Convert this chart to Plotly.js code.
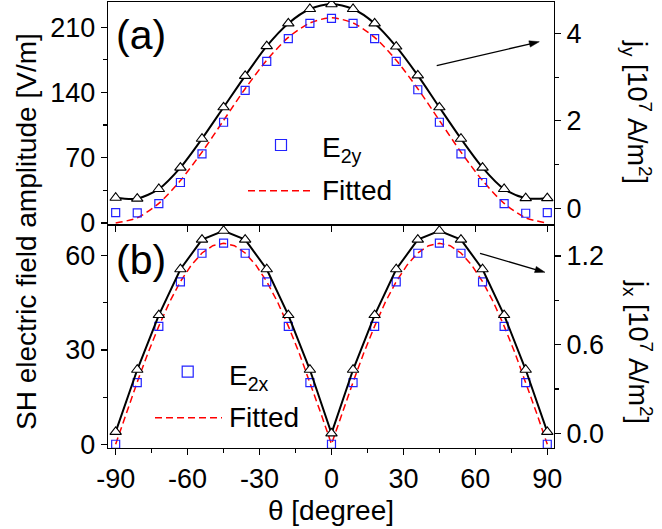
<!DOCTYPE html>
<html>
<head>
<meta charset="utf-8">
<script src="https://cdn.plot.ly/plotly-3.0.1.min.js"></script>
<style>html,body{margin:0;padding:0;background:#fff;}#chart{width:662px;height:529px;}</style>
</head>
<body>
<div id="chart"></div>
<script>
// ---- data ----
const theta = [-90,-81,-72,-63,-54,-45,-36,-27,-18,-9,0,9,18,27,36,45,54,63,72,81,90];
// (a) top panel
const jy  = [0.24,0.22,0.44,0.93,1.59,2.31,3.03,3.71,4.23,4.56,4.67,4.56,4.23,3.70,3.04,2.31,1.59,0.93,0.44,0.23,0.23];
const e2y = [11.1,10.8,20.8,43.4,74.0,108.0,142.2,173.4,197.8,214.0,219.4,214.0,197.8,173.4,142.9,108.0,74.0,43.4,20.8,10.4,11.1];
const fitY = [0,5.5,21,45.5,76,110,144,174.5,199,214.5,220,214.5,199,174.5,144,110,76,45.5,21,5.5,0];
// (b) bottom panel
const jx  = [0.01,0.43,0.80,1.11,1.31,1.37,1.31,1.11,0.80,0.43,0.0,0.43,0.80,1.11,1.31,1.37,1.31,1.11,0.80,0.43,0.01];
const e2x = [0,19.6,37.5,51.7,60.8,64.0,60.8,51.7,37.5,19.6,0,19.6,37.5,51.7,60.8,64.0,60.8,51.7,37.5,19.6,0];
const thetaFitX = [-90,-85.5,-81,-76.5,-72,-67.5,-63,-58.5,-54,-49.5,-45,-40.5,-36,-31.5,-27,-22.5,-18,-13.5,-9,-4.5,0,
                   4.5,9,13.5,18,22.5,27,31.5,36,40.5,45,49.5,54,58.5,63,67.5,72,76.5,81,85.5,90];
const fitX = [0,10,19.8,29.1,37.6,45.3,51.8,57,60.9,63.2,64,63.2,60.9,57,51.8,45.3,37.6,29.1,19.8,10,0,
              10,19.8,29.1,37.6,45.3,51.8,57,60.9,63.2,64,63.2,60.9,57,51.8,45.3,37.6,29.1,19.8,10,0];
const xTicks = [-90,-60,-30,0,30,60,90];
const xTickText = ['-90','-60','-30','0','30','60','90'];

// ---- styling ----
const FONT = 'Liberation Sans, Arial, sans-serif';
const BLUE = '#2222ff', RED = '#ff0000';
const triMarker = {symbol:'triangle-up', size:10, color:'white', line:{color:'black', width:1.1}};
const sqMarker = {symbol:'square-open', size:8, color:BLUE, line:{color:BLUE, width:1.2}};

const traces = [
  {x:theta, y:jy, xaxis:'x2', yaxis:'y4', mode:'lines+markers', line:{color:'black', width:2, shape:'spline', smoothing:0.8}, marker:triMarker, showlegend:false},
  {x:theta, y:fitY, xaxis:'x2', yaxis:'y3', mode:'lines', line:{color:RED, width:1.5, dash:'7px,4px', shape:'spline', smoothing:0.8}, showlegend:false},
  {x:theta, y:e2y, xaxis:'x2', yaxis:'y3', mode:'markers', marker:sqMarker, showlegend:false},
  {x:theta, y:jx, xaxis:'x', yaxis:'y2', mode:'lines+markers', line:{color:'black', width:2}, marker:triMarker, showlegend:false},
  {x:thetaFitX, y:fitX, xaxis:'x', yaxis:'y', mode:'lines', line:{color:RED, width:1.5, dash:'7px,4px'}, showlegend:false},
  {x:theta, y:e2x, xaxis:'x', yaxis:'y', mode:'markers', marker:sqMarker, showlegend:false}
];

const TICKSZ = 27;
const axBase = {showline:true, linecolor:'black', linewidth:1.2, ticks:'outside', ticklen:6, tickwidth:1.2, tickcolor:'black',
  showgrid:false, zeroline:false, tickfont:{family:FONT, size:TICKSZ, color:'black'}};
const minorCfg = (d)=>({dtick:d, tick0:0, ticks:'outside', ticklen:4, tickcolor:'black', tickwidth:1.2});

function px2x(px){return (px-108)/446;}
function py2y(py){return (448-py)/446;}

// arrow drawn as shapes (shaft + filled head), endpoints given in pixels of the frame
function arrowShapes(x0,y0,x1,y1){
  const dx=x1-x0, dy=y1-y0, L=Math.hypot(dx,dy), ux=dx/L, uy=dy/L, nx=-uy, ny=ux;
  const hl=10, hw=3.2;
  const bx=x1-hl*ux, by=y1-hl*uy;
  const p=(a,b)=>px2x(a)+','+py2y(b);
  return [
    {type:'line', xref:'paper', yref:'paper', x0:px2x(x0), y0:py2y(y0), x1:px2x(bx+2*ux), y1:py2y(by+2*uy), line:{color:'black', width:1.3}},
    {type:'path', xref:'paper', yref:'paper', path:'M'+p(x1,y1)+' L'+p(bx+hw*nx,by+hw*ny)+' L'+p(bx-hw*nx,by-hw*ny)+' Z', fillcolor:'black', line:{color:'black', width:0.5}}
  ];
}

const layout = {
  width:662, height:529,
  margin:{l:108, r:108, t:2, b:81},
  paper_bgcolor:'white', plot_bgcolor:'white',
  font:{family:FONT, color:'black'},
  showlegend:false,
  xaxis: Object.assign({}, axBase, {domain:[0,1], anchor:'y', range:[-93.2,92.8], tickvals:xTicks, ticktext:xTickText, mirror:true,
    minor:minorCfg(15),
    title:{text:'θ [degree]', font:{family:FONT, size:28}, standoff:7}}),
  xaxis2: Object.assign({}, axBase, {domain:[0,1], anchor:'y3', range:[-93.2,92.8], tickvals:xTicks, showticklabels:false, mirror:true}),
  yaxis: Object.assign({}, axBase, {domain:[0,0.5], anchor:'x', range:[-1.2,69.8], dtick:30, tick0:0, minor:minorCfg(15)}),
  yaxis2: Object.assign({}, axBase, {overlaying:'y', side:'right', anchor:'x', range:[-0.099,1.409], dtick:0.6, tick0:0, tickformat:'.1f', minor:minorCfg(0.3)}),
  yaxis3: Object.assign({}, axBase, {domain:[0.5,1], anchor:'x2', range:[-2.2,237], dtick:70, tick0:0, minor:minorCfg(35)}),
  yaxis4: Object.assign({}, axBase, {overlaying:'y3', side:'right', anchor:'x2', range:[-0.384,4.72], dtick:2, tick0:0, minor:minorCfg(1)}),
  shapes:[
    // legend samples (a)
    {type:'rect', xref:'paper', yref:'paper', x0:px2x(275.5), x1:px2x(286.5), y0:py2y(150.5), y1:py2y(139.5), line:{color:BLUE, width:1.2}},
    {type:'line', xref:'paper', yref:'paper', x0:px2x(248), x1:px2x(313), y0:py2y(190.7), y1:py2y(190.7), line:{color:RED, width:1.5, dash:'7px,4px'}},
    // legend samples (b)
    {type:'rect', xref:'paper', yref:'paper', x0:px2x(182.2), x1:px2x(193.2), y0:py2y(377.2), y1:py2y(366.2), line:{color:BLUE, width:1.2}},
    {type:'line', xref:'paper', yref:'paper', x0:px2x(155), x1:px2x(222), y0:py2y(417.7), y1:py2y(417.7), line:{color:RED, width:1.5, dash:'7px,4px'}}
  ].concat(arrowShapes(436.7,65.7,539.3,41.7), arrowShapes(480,253.3,545,272.3)),
  annotations:[
    {xref:'paper', yref:'paper', x:-0.1816, y:py2y(232), text:'SH electric field amplitude [V/m]', textangle:-90, showarrow:false, xanchor:'center', yanchor:'middle', font:{family:FONT, size:28}},
    {xref:'paper', yref:'paper', x:px2x(637), y:py2y(112), text:'j<sub>y</sub> [10<sup>7</sup> A/m<sup>2</sup>]', textangle:90, showarrow:false, xanchor:'center', yanchor:'middle', font:{family:FONT, size:27}},
    {xref:'paper', yref:'paper', x:px2x(638), y:py2y(352), text:'j<sub>x</sub> [10<sup>7</sup> A/m<sup>2</sup>]', textangle:90, showarrow:false, xanchor:'center', yanchor:'middle', font:{family:FONT, size:27}},
    {xref:'paper', yref:'paper', x:px2x(114), y:py2y(35), text:'(a)', showarrow:false, xanchor:'left', yanchor:'middle', font:{family:FONT, size:41}},
    {xref:'paper', yref:'paper', x:px2x(114), y:py2y(260), text:'(b)', showarrow:false, xanchor:'left', yanchor:'middle', font:{family:FONT, size:41}},
    {xref:'paper', yref:'paper', x:px2x(320), y:py2y(150), text:'E<sub>2y</sub>', showarrow:false, xanchor:'left', yanchor:'middle', font:{family:FONT, size:28}},
    {xref:'paper', yref:'paper', x:px2x(320), y:py2y(190), text:'Fitted', showarrow:false, xanchor:'left', yanchor:'middle', font:{family:FONT, size:28}},
    {xref:'paper', yref:'paper', x:px2x(227), y:py2y(377), text:'E<sub>2x</sub>', showarrow:false, xanchor:'left', yanchor:'middle', font:{family:FONT, size:28}},
    {xref:'paper', yref:'paper', x:px2x(227), y:py2y(417), text:'Fitted', showarrow:false, xanchor:'left', yanchor:'middle', font:{family:FONT, size:28}}
  ]
};

Plotly.newPlot('chart', traces, layout, {staticPlot:true, displayModeBar:false});
</script>
</body>
</html>
